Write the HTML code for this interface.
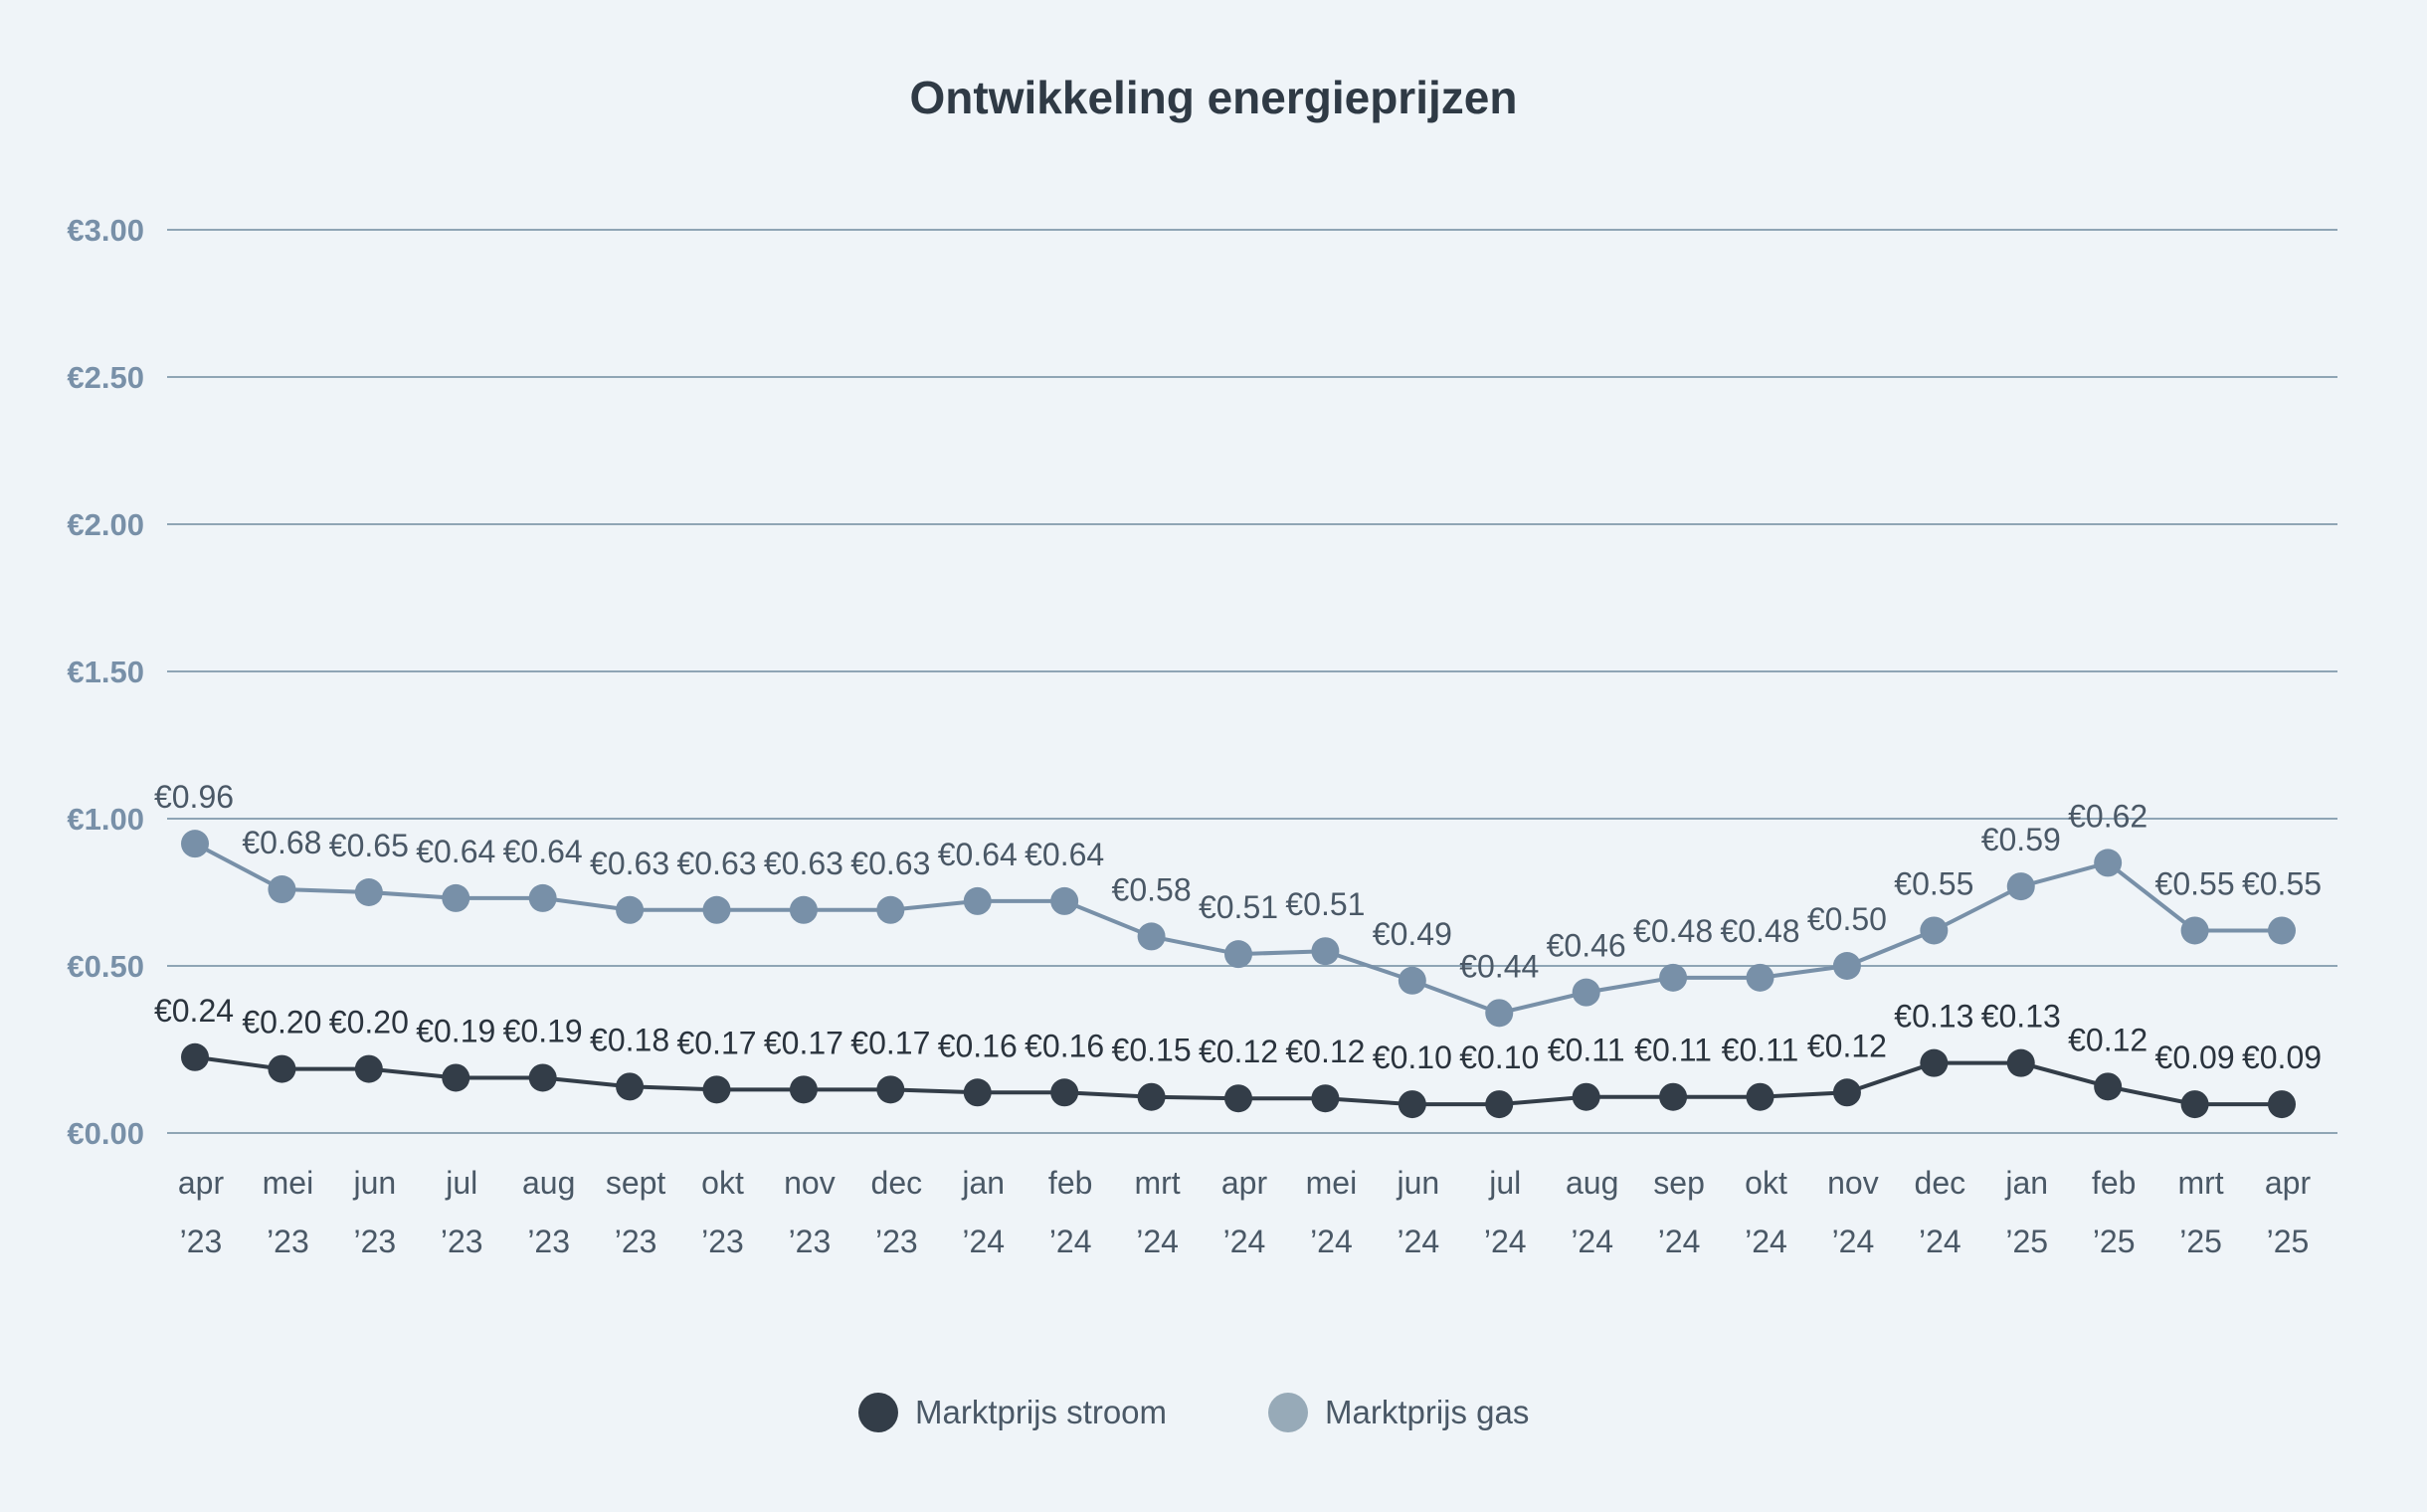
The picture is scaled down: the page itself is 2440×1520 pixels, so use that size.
<!DOCTYPE html>
<html><head><meta charset="utf-8"><style>
html,body{margin:0;padding:0;background:#eff4f8;}
svg{display:block;font-family:"Liberation Sans",sans-serif;}
</style></head><body>
<svg id="chart" width="2440" height="1520" viewBox="0 0 2440 1520">
<rect width="2440" height="1520" fill="#eff4f8"/>
<text x="1220" y="114" text-anchor="middle" font-size="46" font-weight="bold" fill="#2f3a45">Ontwikkeling energieprijzen</text>
<g id="grid"></g><g id="xaxis"></g><g id="series"></g>
<g>
<g><circle cx="883" cy="1420" r="20" fill="#333d48"/><text x="920" y="1431" font-size="33" fill="#4a5866">Marktprijs stroom</text></g>
<g><circle cx="1295" cy="1420" r="20" fill="#97aab8"/><text x="1332" y="1431" font-size="33" fill="#4a5866">Marktprijs gas</text></g>
</g>
</svg>
<script>
const months=["apr","mei","jun","jul","aug","sept","okt","nov","dec","jan","feb","mrt","apr","mei","jun","jul","aug","sep","okt","nov","dec","jan","feb","mrt","apr"];
const years=["’23","’23","’23","’23","’23","’23","’23","’23","’23","’24","’24","’24","’24","’24","’24","’24","’24","’24","’24","’24","’24","’25","’25","’25","’25"];
const gasValues=[0.915,0.76,0.75,0.73,0.73,0.69,0.69,0.69,0.69,0.72,0.72,0.60,0.54,0.55,0.45,0.34,0.41,0.46,0.46,0.50,0.62,0.77,0.85,0.62,0.62];
const gasLabels=["0.96","0.68","0.65","0.64","0.64","0.63","0.63","0.63","0.63","0.64","0.64","0.58","0.51","0.51","0.49","0.44","0.46","0.48","0.48","0.50","0.55","0.59","0.62","0.55","0.55"];
const stroomValues=[0.19,0.15,0.15,0.12,0.12,0.09,0.08,0.08,0.08,0.07,0.07,0.055,0.05,0.05,0.03,0.03,0.055,0.055,0.055,0.07,0.17,0.17,0.09,0.03,0.03];
const stroomLabels=["0.24","0.20","0.20","0.19","0.19","0.18","0.17","0.17","0.17","0.16","0.16","0.15","0.12","0.12","0.10","0.10","0.11","0.11","0.11","0.12","0.13","0.13","0.12","0.09","0.09"];
const yTicks=[0.5,1.0,1.5,2.0,2.5,3.0];
const yTickLabels=["€0.50","€1.00","€1.50","€2.00","€2.50","€3.00"];
const NS="http://www.w3.org/2000/svg";
const X=i=>196+i*(2294-196)/(months.length-1);
const Y=v=>1119-v*296;
function mk(tag,attrs,parent){const e=document.createElementNS(NS,tag);for(const k in attrs)e.setAttribute(k,attrs[k]);parent.appendChild(e);return e;}
const grid=document.getElementById('grid');
yTicks.forEach((t,i)=>{
 const l=mk('line',{x1:168,x2:2350,y1:Y(t),y2:Y(t),stroke:'#8fa5b5','stroke-width':2},grid);
 
 
 const tx=mk('text',{x:145,y:Y(t)+11,'text-anchor':'end','font-size':31,'font-weight':'bold',fill:'#7890a8'},grid);
 tx.textContent=yTickLabels[i];
 
 
});
const base=mk('line',{x1:168,x2:2350,y1:1139,y2:1139,stroke:'#8fa5b5','stroke-width':2},grid);


const bt=mk('text',{x:145,y:1150,'text-anchor':'end','font-size':31,'font-weight':'bold',fill:'#7890a8'},grid);
bt.textContent="€0.00";


const xa=document.getElementById('xaxis');
months.forEach((m,i)=>{
 const t1=mk('text',{x:X(i)+6,y:1200,'text-anchor':'middle','font-size':32,fill:'#4a5866'},xa);
 t1.textContent=m;
 
 
 const t2=mk('text',{x:X(i)+6,y:1259,'text-anchor':'middle','font-size':32,fill:'#4a5866'},xa);
 t2.textContent=years[i];
 
 
});
const sg=document.getElementById('series');
function drawSeries(vals,labels,color,labColor,name){
 const p=mk('polyline',{points:vals.map((v,i)=>X(i)+','+Y(v)).join(' '),fill:'none',stroke:color,'stroke-width':4},sg);
 
 
 vals.forEach((v,i)=>{
  const c=mk('circle',{cx:X(i),cy:Y(v),r:14,fill:color},sg);
  
  
  const t=mk('text',{x:X(i)+(i==0?-1:0),y:Y(v)-36,'text-anchor':'middle','font-size':32,fill:labColor},sg);
  t.textContent='€'+labels[i];
  
  
 });
}
drawSeries(gasValues,gasLabels,'#7890a8','#4a5866','gas');
drawSeries(stroomValues,stroomLabels,'#333d48','#2a333d','stroom');
</script>
</body></html>
